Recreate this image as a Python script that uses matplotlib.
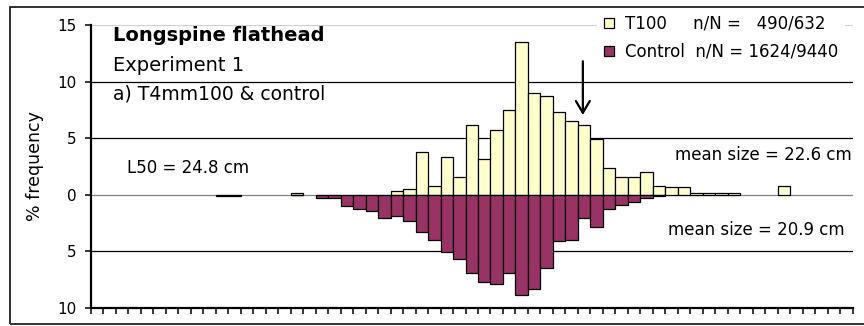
import numpy as np
import matplotlib
matplotlib.use('Agg')
import matplotlib.pyplot as plt
from matplotlib.patches import Rectangle
from matplotlib.ticker import FuncFormatter

# % frequency per 1 cm length class (61 classes)
t100 = [0, 0, 0, 0, 0, 0, 0, 0, 0, 0,
        0, 0, 0, 0, 0, 0, 0.2, 0, 0, 0,
        0, 0, 0, 0, 0.3, 0.5, 3.8, 0.8, 3.35, 1.6,
        6.15, 3.15, 5.7, 7.45, 13.5, 9.0, 8.7, 7.3, 6.5, 6.15,
        4.9, 2.35, 1.55, 1.6, 2.05, 0.8, 0.65, 0.65, 0.2, 0.2,
        0.2, 0.2, 0, 0, 0, 0.8, 0, 0, 0, 0,
        0]
control = [0, 0, 0, 0, 0, 0, 0, 0, 0, 0,
           0.1, 0.1, 0, 0, 0, 0, 0.06, 0, 0.3, 0.3,
           0.95, 1.25, 1.45, 2.05, 1.9, 2.35, 3.3, 3.95, 5.05, 5.7,
           6.95, 7.7, 7.9, 6.95, 8.85, 8.35, 6.45, 4.1, 3.95, 2.05,
           2.85, 1.25, 0.9, 0.6, 0.25, 0.1, 0, 0, 0, 0,
           0, 0, 0, 0, 0, 0, 0, 0, 0, 0,
           0]

lab_t100 = 'T100     n/N =   490/632'
lab_ctrl = 'Control  n/N = 1624/9440'
l50 = 24.8
mean_t100 = 22.6
mean_ctrl = 20.9
l50_class = 39.4

nbins = len(t100)
xc = np.arange(nbins) + 0.5
t = np.array(t100)
c = np.array(control)

fig = plt.figure(figsize=(8.64, 3.26), dpi=100)
ax = fig.add_axes([91/864, 1-308/326, 761.5/864, 283/326])

# outer chart frame (runs off the right edge)
fig.add_artist(Rectangle((10/864, 1-324/326), 1.0, (324-7)/326,
                         transform=fig.transFigure, fill=False,
                         edgecolor='#222222', lw=1.3, clip_on=False))

for yv, col in [(15, '#d0d0d0'), (10, 'k'), (5, 'k'), (-5, 'k'), (0, '#808080')]:
    ax.axhline(yv, color=col, lw=0.9, zorder=1)

up = t > 0
dn = c > 0
b1 = ax.bar(xc[up], t[up], width=1.0, color='#FFFFCC', edgecolor='k',
            lw=0.9, zorder=2, label=lab_t100)
b2 = ax.bar(xc[dn], -c[dn], width=1.0, color='#993366', edgecolor='k',
            lw=0.9, zorder=2, label=lab_ctrl)

ax.set_xlim(0, nbins)
ax.set_ylim(-10, 15)
ax.set_xticks(np.arange(nbins + 1))
ax.set_xticklabels([])
ax.set_yticks([-10, -5, 0, 5, 10, 15])
ax.yaxis.set_major_formatter(FuncFormatter(lambda v, p: '%d' % abs(v)))
ax.tick_params(axis='x', direction='out', length=4, width=1.1)
ax.tick_params(axis='y', direction='out', length=4.3, width=1.1,
               labelsize=11, pad=6)
for s in ['top', 'right']:
    ax.spines[s].set_visible(False)
for s in ['left', 'bottom']:
    ax.spines[s].set_linewidth(1.6)
ax.set_ylabel('% frequency', fontsize=12.5)
ax.yaxis.set_label_coords(-0.062, 0.5)

ax.text(0.029, 0.9445, 'Longspine flathead', transform=ax.transAxes,
        fontsize=14, fontweight='bold')
ax.text(0.029, 0.8385, 'Experiment 1', transform=ax.transAxes, fontsize=14)
ax.text(0.029, 0.735, 'a) T4mm100 & control', transform=ax.transAxes,
        fontsize=13.5)
ax.text(0.0473, 0.476, 'L50 = %.1f cm' % l50, transform=ax.transAxes,
        fontsize=12)
ax.text(0.9989, 0.522, 'mean size = %.1f cm' % mean_t100, ha='right',
        transform=ax.transAxes, fontsize=12)
ax.text(0.990, 0.258, 'mean size = %.1f cm' % mean_ctrl, ha='right',
        transform=ax.transAxes, fontsize=12)

ax.annotate('', xy=(l50_class, 7.05), xytext=(l50_class, 11.8),
            arrowprops=dict(arrowstyle='->, head_length=0.85, head_width=0.5',
                            mutation_scale=10, lw=1.6, color='k',
                            shrinkA=0, shrinkB=0))

leg = ax.legend(handles=[b1, b2], loc='upper left',
                bbox_to_anchor=(597/864, 1-8/326),
                bbox_transform=fig.transFigure, fontsize=12,
                handlelength=0.6, handleheight=0.6, handletextpad=0.7,
                labelspacing=0.62, borderpad=0.4, borderaxespad=0,
                fancybox=False, framealpha=1, facecolor='white',
                edgecolor='none')
leg.set_zorder(5)

fig.savefig('out.png', dpi=100)
